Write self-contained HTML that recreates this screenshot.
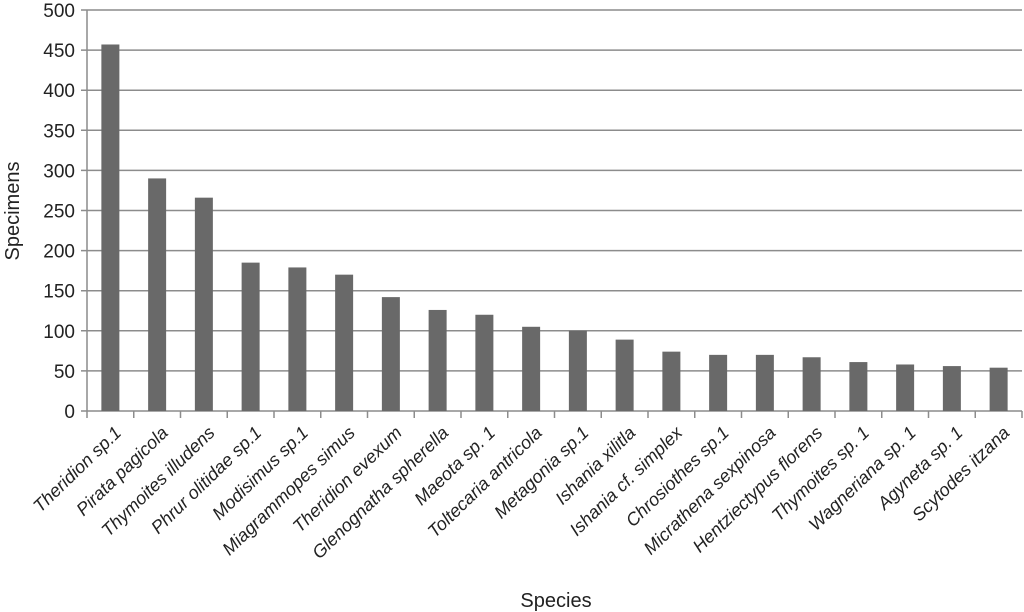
<!DOCTYPE html>
<html><head><meta charset="utf-8"><style>
html,body{margin:0;padding:0;background:#fff;}
svg{display:block;font-family:"Liberation Sans",Arial,sans-serif;}
</style></head><body>
<svg id="chart" width="1024" height="612" viewBox="0 0 1024 612">
<g id="grid"></g>
<g id="yticks"></g>
<g id="bars"></g>
<g id="xticks"></g>
<text x="19" y="211" transform="rotate(-90 19 211)" text-anchor="middle" font-size="20" fill="#222">Specimens</text>
<text x="556" y="607" text-anchor="middle" font-size="20" fill="#222">Species</text>
</svg>
<script>
const categories = ["Theridion sp.1","Pirata pagicola","Thymoites illudens","Phrur olitidae sp.1","Modisimus sp.1","Miagrammopes simus","Theridion evexum","Glenognatha spherella","Maeota sp. 1","Toltecaria antricola","Metagonia sp.1","Ishania xilitla","Ishania cf. simplex","Chrosiothes sp.1","Micrathena sexpinosa","Hentziectypus florens","Thymoites sp. 1","Wagneriana sp. 1","Agyneta sp. 1","Scytodes itzana"];
const values = [457,290,266,185,179,170,142,126,120,105,100,89,74,70,70,67,61,58,56,54];
const yTicks = [0,50,100,150,200,250,300,350,400,450,500];

const NS="http://www.w3.org/2000/svg";
const X0=87, X1=1022, Y0=411, Y1=10, YMAX=500;
const slot=(X1-X0)/categories.length;
function xScale(i){return X0+slot*(i+0.5);}
function yScale(v){return Y0-(v/YMAX)*(Y0-Y1);}
function mk(tag,attrs,parent){const e=document.createElementNS(NS,tag);for(const k in attrs)e.setAttribute(k,attrs[k]);parent.appendChild(e);return e;}

const grid=document.getElementById('grid'), yt=document.getElementById('yticks'), bars=document.getElementById('bars'), xt=document.getElementById('xticks');
yTicks.forEach(t=>{
  const y=yScale(t);
  const gl=mk('line',{x1:X0-6,x2:X1,y1:y,y2:y,stroke:'#8c8c8c','stroke-width':1.5},grid);
  
  
  const lb=mk('text',{x:X0-12,y:y+7,'text-anchor':'end','font-size':19,fill:'#222'},yt);
  lb.textContent=t;
  
  
});
mk('line',{x1:X0,x2:X0,y1:Y1,y2:Y0,stroke:'#8c8c8c','stroke-width':1.5},yt);
values.forEach((v,i)=>{
  const cx=xScale(i), w=18;
  const r=mk('rect',{x:cx-w/2,y:yScale(v),width:w,height:Y0-yScale(v),fill:'#696969'},bars);
  
  
});
for(let i=0;i<=categories.length;i++){
  const x=X0+slot*i;
  mk('line',{x1:x,x2:x,y1:Y0,y2:Y0+7,stroke:'#8c8c8c','stroke-width':1.5},xt);
}
categories.forEach((c,i)=>{
  const x=xScale(i)+12, y=434;
  const t=mk('text',{x:x,y:y,'text-anchor':'end','font-size':18,'font-style':'italic',fill:'#222',transform:`rotate(-44 ${x} ${y})`},xt);
  t.textContent=c;
  
  
});
</script>
</body></html>
